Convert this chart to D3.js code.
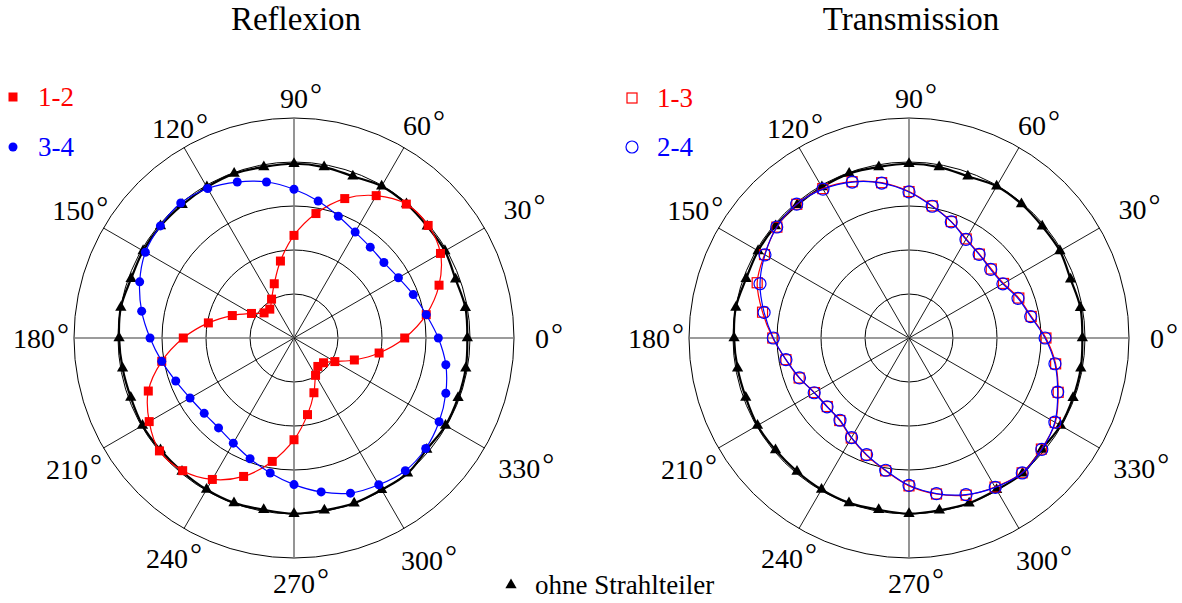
<!DOCTYPE html>
<html>
<head>
<meta charset="utf-8">
<script src="https://cdn.jsdelivr.net/npm/d3@7"></script>
<style>
  body { margin: 0; background: #fff; }
  svg { display: block; }
  text { font-family: "Liberation Serif", "Times New Roman", serif; }
</style>
</head>
<body>
<div id="chart"></div>
<script>
// angles in degrees (counter-clockwise from 0° at the right)
const angles = [0, 10, 20, 30, 40, 50, 60, 70, 80, 90, 100, 110, 120, 130, 140, 150, 160, 170,
  180, 190, 200, 210, 220, 230, 240, 250, 260, 270, 280, 290, 300, 310, 320, 330, 340, 350];

// reference without beam splitter (same in both plots)
const ohneStrahlteiler = [0.985, 0.989, 0.977, 0.99, 0.988, 0.994, 0.996, 0.978, 0.986, 0.99,
  0.987, 0.994, 0.99, 0.988, 0.99, 0.99, 0.985, 0.999, 0.994, 0.989, 0.987, 0.994, 0.99, 0.99,
  0.994, 0.997, 0.991, 0.998, 0.994, 0.999, 0.996, 1.004, 0.985, 0.994, 0.992, 0.991];

// Reflexion
const refl12 = [0.629, 0.763, 0.877, 0.961, 0.995, 0.993, 0.934, 0.843, 0.718, 0.583,
  0.444, 0.328, 0.255, 0.214, 0.222, 0.279, 0.373, 0.494, 0.629, 0.763, 0.881, 0.95,
  0.998, 0.984, 0.928, 0.837, 0.712, 0.578, 0.442, 0.331, 0.245, 0.211, 0.219, 0.268, 0.365, 0.491];
const refl34 = [0.82, 0.763, 0.721, 0.685, 0.667, 0.674, 0.695, 0.736, 0.79, 0.845,
  0.9, 0.943, 0.981, 1.001, 0.991, 0.975, 0.933, 0.879, 0.818, 0.763, 0.715, 0.682,
  0.666, 0.667, 0.69, 0.73, 0.779, 0.833, 0.888, 0.938, 0.963, 0.984, 0.977, 0.952, 0.918, 0.876];

// Transmission
const trans13 = [0.778, 0.705, 0.664, 0.62, 0.61, 0.622, 0.65, 0.704, 0.762, 0.832,
  0.896, 0.945, 0.98, 0.992, 0.98, 0.948, 0.918, 0.845, 0.774, 0.71, 0.664, 0.62,
  0.606, 0.612, 0.656, 0.708, 0.766, 0.84, 0.9, 0.95, 0.978, 1.0, 0.982, 0.96, 0.902, 0.846];
const trans24 = [0.773, 0.702, 0.659, 0.616, 0.606, 0.62, 0.647, 0.702, 0.76, 0.83,
  0.894, 0.943, 0.977, 0.993, 0.981, 0.945, 0.901, 0.836, 0.771, 0.71, 0.662, 0.622,
  0.608, 0.61, 0.653, 0.705, 0.763, 0.837, 0.898, 0.947, 0.98, 1.001, 0.985, 0.957, 0.899, 0.842];

const gridTicks = [0.25, 0.5, 0.75, 1.0, 1.25];
const spokeAngles = [0, 30, 60, 90, 120, 150, 180, 210, 240, 270, 300, 330];
// distance of each angle label (digits centre) from the plot centre, px
const labelDist = [248, 258, 246, 240, 242, 255, 260, 262, 254, 245, 256, 260];

const W = 1182, H = 603, R = 220;
const FONT = '"Liberation Serif", "Times New Roman", serif';
const svg = d3.select('#chart').append('svg').attr('width', W).attr('height', H);

const r = d3.scaleLinear().domain([0, 1.25]).range([0, R]);
const a = d3.scaleLinear().domain([0, 360]).range([Math.PI / 2, Math.PI / 2 - 2 * Math.PI]);
const px = (deg, v) => r(v) * Math.cos(deg * Math.PI / 180);
const py = (deg, v) => -r(v) * Math.sin(deg * Math.PI / 180);

const line = d3.lineRadial()
  .angle(d => a(d.deg))
  .radius(d => r(d.v))
  .curve(d3.curveCatmullRomClosed.alpha(0.5));

const tri = d3.symbol().type(d3.symbolTriangle).size(55);

function drawMarkers(g, pts, s) {
  const tag = s.shape === 'square' ? 'rect' : s.shape === 'tri' ? 'path' : 'circle';
  const sel = g.append('g').selectAll(tag).data(pts).join(tag);
  if (s.shape === 'square') {
    sel.attr('x', d => px(d.deg, d.v) - s.size / 2).attr('y', d => py(d.deg, d.v) - s.size / 2)
      .attr('width', s.size).attr('height', s.size);
  } else if (s.shape === 'tri') {
    sel.attr('d', tri).attr('transform', d => `translate(${px(d.deg, d.v)},${py(d.deg, d.v)})`);
  } else {
    sel.attr('cx', d => px(d.deg, d.v)).attr('cy', d => py(d.deg, d.v)).attr('r', s.size / 2);
  }
  sel.attr('fill', s.filled ? s.color : 'none')
    .attr('stroke', s.filled ? 'none' : s.color)
    .attr('stroke-width', s.filled ? 0 : 1.2);
}

function drawPolar(cx, cy, title, series) {
  const g = svg.append('g').attr('transform', `translate(${cx},${cy})`);

  // grid circles
  g.selectAll('.ring').data(gridTicks).join('circle')
    .attr('r', d => r(d)).attr('fill', 'none').attr('stroke', '#000').attr('stroke-width', 1);

  // spokes
  g.selectAll('.spoke').data(spokeAngles).join('line')
    .attr('x1', 0).attr('y1', 0)
    .attr('x2', d => px(d, 1.25)).attr('y2', d => py(d, 1.25))
    .attr('stroke', d => d % 90 === 0 ? '#7a7a7a' : '#000')
    .attr('stroke-width', d => d % 90 === 0 ? 1.6 : 0.9);

  // angle labels: digits centred on the position, degree ring hanging to the right
  spokeAngles.forEach((d, i) => {
    const x = px(d, 1.25) * labelDist[i] / R;
    const y = py(d, 1.25) * labelDist[i] / R;
    const t = g.append('text').attr('x', x).attr('y', y).attr('dy', '0.35em')
      .attr('text-anchor', 'middle').attr('font-family', FONT).attr('font-size', 28)
      .attr('fill', '#000').text(String(d));
    const w = t.node().getComputedTextLength();
    g.append('text').attr('x', x + w / 2 + 2).attr('y', y).attr('dy', '0.2em')
      .attr('font-family', FONT).attr('font-size', 30).attr('fill', '#000').text('°');
  });

  // series: curves then markers
  series.forEach(s => {
    const pts = angles.map((deg, i) => ({ deg, v: s.values[i] }));
    g.append('path').datum(pts).attr('d', line)
      .attr('fill', 'none').attr('stroke', s.color).attr('stroke-width', s.lw);
    drawMarkers(g, pts, s);
  });

  svg.append('text').attr('x', cx + 2).attr('y', 30).attr('text-anchor', 'middle')
    .attr('font-family', FONT).attr('font-size', 33).attr('fill', '#000').text(title);
}

const refSeries = { values: ohneStrahlteiler, color: '#000', shape: 'tri', filled: true, lw: 2.2 };

drawPolar(294, 338, 'Reflexion', [
  refSeries,
  { values: refl12, color: '#ff0000', shape: 'square', filled: true, size: 9, lw: 1.2 },
  { values: refl34, color: '#0000ff', shape: 'circle', filled: true, size: 9, lw: 1.2 }
]);

drawPolar(909, 338, 'Transmission', [
  refSeries,
  { values: trans13, color: '#ff0000', shape: 'square', filled: false, size: 10, lw: 1.2 },
  { values: trans24, color: '#0000ff', shape: 'circle', filled: false, size: 12, lw: 1.2 }
]);

// legends
const legends = [
  { x: 13, y: 97, label: '1-2', color: '#ff0000', shape: 'square', filled: true, size: 9 },
  { x: 13, y: 147, label: '3-4', color: '#0000ff', shape: 'circle', filled: true, size: 9 },
  { x: 632, y: 98, label: '1-3', color: '#ff0000', shape: 'square', filled: false, size: 10 },
  { x: 632, y: 147, label: '2-4', color: '#0000ff', shape: 'circle', filled: false, size: 12 },
  { x: 511, y: 585, label: 'ohne Strahlteiler', color: '#000', shape: 'tri', filled: true, size: 9 }
];
legends.forEach(l => {
  const g = svg.append('g').attr('transform', `translate(${l.x},${l.y})`);
  drawMarkers(g, [{ deg: 0, v: 0 }], l);
  g.append('text').attr('x', l.shape === 'tri' ? 24 : 25).attr('y', 0).attr('dy', '0.33em')
    .attr('font-family', FONT).attr('font-size', 27).attr('fill', l.color).text(l.label);
});
</script>
</body>
</html>
